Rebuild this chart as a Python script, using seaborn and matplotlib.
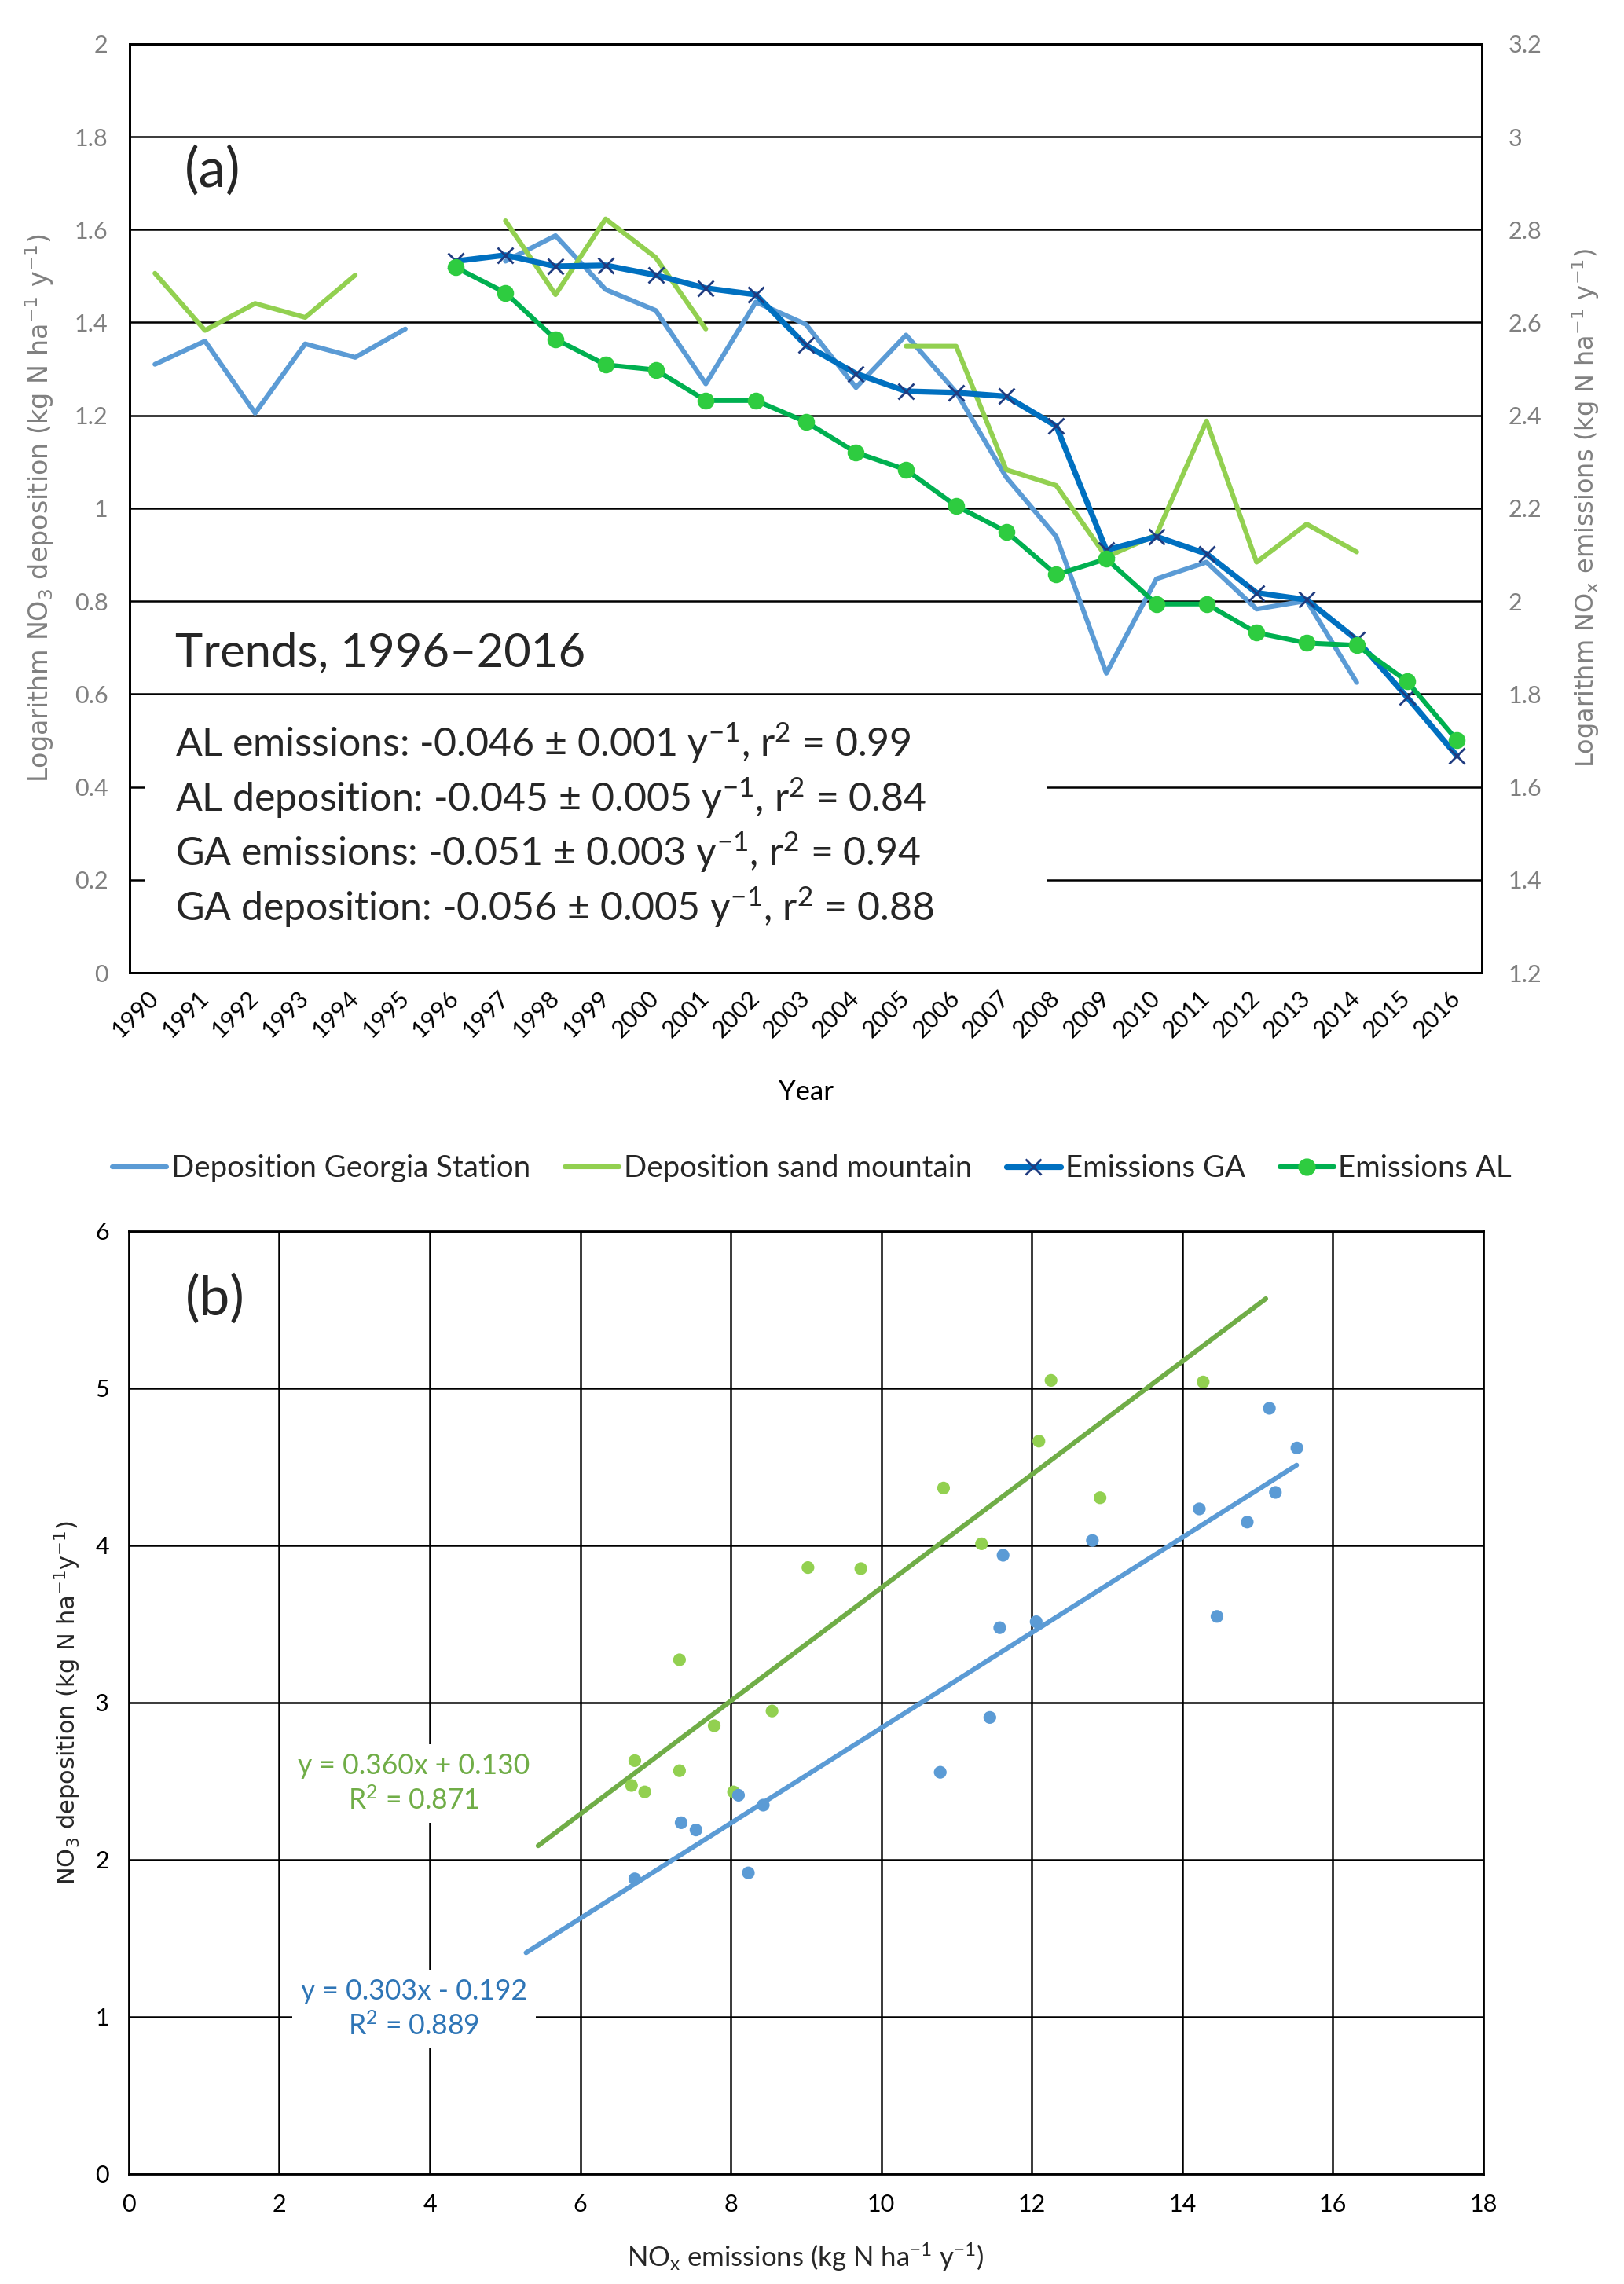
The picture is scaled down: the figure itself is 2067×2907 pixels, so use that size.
import numpy as np
import pandas as pd
import seaborn as sns
import matplotlib.pyplot as plt
from matplotlib.lines import Line2D
from matplotlib.patches import Rectangle
from matplotlib.ticker import FuncFormatter

nan = np.nan

# (a) yearly series, log values
years = list(range(1990, 2017))
dep_georgia = [1.310, 1.360, 1.205, 1.354, 1.325, 1.386, nan,
               1.532, 1.587, 1.471, 1.426, 1.268, 1.444, 1.396, 1.260, 1.373,
               1.250, 1.067, 0.939, 0.645, 0.848, 0.884, 0.783, 0.801, 0.625,
               nan, nan]
dep_sand = [1.506, 1.383, 1.441, 1.411, 1.502, nan, nan,
            1.619, 1.460, 1.623, 1.540, 1.386, nan, nan, nan,
            1.349, 1.349, 1.083, 1.049, 0.895, 0.943, 1.188, 0.884, 0.966, 0.906,
            nan, nan]
# emissions on the right axis
emis_ga = [nan] * 6 + [2.732, 2.745, 2.721, 2.723, 2.702, 2.674, 2.660, 2.551,
                       2.490, 2.452, 2.449, 2.441, 2.377, 2.110, 2.139, 2.102,
                       2.018, 2.003, 1.917, 1.794, 1.667]
emis_al = [nan] * 6 + [2.719, 2.664, 2.564, 2.509, 2.498, 2.432, 2.432, 2.386,
                       2.320, 2.283, 2.205, 2.150, 2.057, 2.091, 1.994, 1.994,
                       1.932, 1.910, 1.905, 1.828, 1.701]

trend_lines = [
    "AL emissions: -0.046 \u00b1 0.001 y$^{-1}$, r$^{2}$ = 0.99",
    "AL deposition: -0.045 \u00b1 0.005 y$^{-1}$, r$^{2}$ = 0.84",
    "GA emissions: -0.051 \u00b1 0.003 y$^{-1}$, r$^{2}$ = 0.94",
    "GA deposition: -0.056 \u00b1 0.005 y$^{-1}$, r$^{2}$ = 0.88",
]

# (b) deposition vs emissions
ga_emis_x = [15.158, 15.524, 15.238, 14.227, 14.864, 12.806, 11.619, 12.059, 11.575,
             14.462, 11.443, 10.784, 8.103, 8.432, 7.341, 7.538, 6.725, 8.234]
ga_dep_y = [4.872, 4.620, 4.337, 4.232, 4.148, 4.031, 3.937, 3.514, 3.476,
            3.548, 2.905, 2.556, 2.410, 2.347, 2.235, 2.189, 1.878, 1.916]
al_emis_x = [12.256, 14.278, 12.095, 10.828, 12.908, 11.333, 9.026, 9.729,
             7.319, 8.549, 7.780, 6.725, 7.319, 6.681, 6.857, 8.037]
al_dep_y = [5.050, 5.040, 4.663, 4.365, 4.303, 4.010, 3.859, 3.852,
            3.272, 2.946, 2.852, 2.630, 2.566, 2.472, 2.431, 2.431]
al_fit = (0.360, 0.130)
al_fit_range = (5.44, 15.11)
ga_fit = (0.303, -0.192)
ga_fit_range = (5.28, 15.52)

C_GEORGIA = "#5B9BD5"
C_SAND = "#92D050"
C_GA = "#0070C0"
C_AL = "#00B050"
GRAY = "#808080"

sns.set_theme(style="white")
plt.rcParams["font.family"] = ["Lato", "DejaVu Sans"]
plt.rcParams["mathtext.default"] = "regular"


def segments(values):
    df = pd.DataFrame({"year": years, "value": values})
    df["seg"] = df["value"].isna().cumsum()
    return df.dropna()


fig = plt.figure(figsize=(10.335, 14.535), dpi=200)

# ---------------- (a) ----------------
ax1 = fig.add_axes([0.080, 0.5741, 0.8325, 0.4067])
ax2 = ax1.twinx()

sns.lineplot(data=segments(dep_georgia), x="year", y="value", units="seg",
             estimator=None, color=C_GEORGIA, lw=2.2, ax=ax1)
sns.lineplot(data=segments(dep_sand), x="year", y="value", units="seg",
             estimator=None, color=C_SAND, lw=2.2, ax=ax1)
sns.lineplot(data=segments(emis_ga), x="year", y="value", units="seg",
             estimator=None, color=C_GA, lw=2.6, marker="x", markersize=7,
             markeredgecolor="#203C80", markeredgewidth=1.0, ax=ax2)
sns.lineplot(data=segments(emis_al), x="year", y="value", units="seg",
             estimator=None, color=C_AL, lw=2.2, marker="o", markersize=7,
             markerfacecolor="#2ECC40", markeredgecolor="#2ECC40", ax=ax2)

ax1.set_xlim(1989.5, 2016.5)
ax1.set_ylim(0, 2)
ax2.set_ylim(1.2, 3.2)
ax1.set_yticks(np.arange(0, 2.01, 0.2))
ax2.set_yticks(np.arange(1.2, 3.21, 0.2))
fmt = FuncFormatter(lambda v, p: f"{v:.1f}".rstrip("0").rstrip("."))
ax1.yaxis.set_major_formatter(fmt)
ax2.yaxis.set_major_formatter(fmt)
ax1.set_xticks(years)
ax1.set_xticklabels([str(y) for y in years], rotation=45, ha="right",
                    va="center", rotation_mode="anchor")
ax1.yaxis.grid(True, color="black", lw=0.9)
ax1.set_axisbelow(True)
ax1.tick_params(axis="x", length=0, pad=10, labelsize=11, labelcolor="black")
ax1.tick_params(axis="y", length=0, pad=10, labelsize=11, labelcolor=GRAY)
ax2.tick_params(axis="y", length=0, pad=12, labelsize=11, labelcolor=GRAY)
for ax in (ax1, ax2):
    for sp in ax.spines.values():
        sp.set_color("black")
        sp.set_linewidth(1.0)

ax1.set_xlabel("Year", fontsize=12.5, color="black")
ax1.xaxis.set_label_coords(0.5, -0.115)
ax1.set_ylabel("Logarithm NO$_3$ deposition (kg N ha$^{-1}$ y$^{-1}$)",
               fontsize=12, color=GRAY, family="DejaVu Sans")
ax1.yaxis.set_label_coords(-0.055, 0.5)
ax2.set_ylabel("Logarithm NO$_x$ emissions (kg N ha$^{-1}$ y$^{-1}$)",
               fontsize=11.5, color=GRAY, family="DejaVu Sans")
ax2.yaxis.set_label_coords(1.065, 0.5)

ax1.text(0.061, 0.863, "(a)", transform=ax1.transAxes, fontsize=25,
         ha="center", va="center")
ax1.add_patch(Rectangle((0.011, 0.03), 0.667, 0.262, transform=ax1.transAxes,
                        facecolor="white", edgecolor="none", zorder=1))
ax1.text(0.0336, 0.3434, "Trends, 1996\u20132016", transform=ax1.transAxes,
         fontsize=21.5, ha="left", va="center", zorder=3)
for i, line in enumerate(trend_lines):
    ax1.text(0.0336, 0.247 - i * 0.0588, line, transform=ax1.transAxes,
             fontsize=18, ha="left", va="center", zorder=3)

handles = [
    Line2D([], [], color=C_GEORGIA, lw=2.2),
    Line2D([], [], color=C_SAND, lw=2.2),
    Line2D([], [], color=C_GA, lw=2.6, marker="x", markersize=7,
           markeredgecolor="#203C80"),
    Line2D([], [], color=C_AL, lw=2.2, marker="o", markersize=7,
           markerfacecolor="#2ECC40", markeredgecolor="#2ECC40"),
]
labels = ["Deposition Georgia Station", "Deposition sand mountain",
          "Emissions GA", "Emissions AL"]
fig.legend(handles, labels, loc="center", bbox_to_anchor=(0.5, 0.4885), ncol=4,
           frameon=False, fontsize=13.8, handlelength=1.8, handletextpad=0.15,
           columnspacing=1.15)

# ---------------- (b) ----------------
ax3 = fig.add_axes([0.0793, 0.0482, 0.834, 0.4128])
sns.scatterplot(x=al_emis_x, y=al_dep_y, color=C_SAND, s=34, edgecolor="none",
                ax=ax3, zorder=3)
sns.scatterplot(x=ga_emis_x, y=ga_dep_y, color=C_GEORGIA, s=34, edgecolor="none",
                ax=ax3, zorder=3)

for fit, rng, col in [(al_fit, al_fit_range, "#70AD47"),
                      (ga_fit, ga_fit_range, C_GEORGIA)]:
    xs = np.array(rng)
    fit_df = pd.DataFrame({"x": xs, "y": fit[0] * xs + fit[1]})
    sns.lineplot(data=fit_df, x="x", y="y", color=col, lw=2.2, ax=ax3, zorder=2)

ax3.set_xlim(0, 18)
ax3.set_ylim(0, 6)
ax3.set_xticks(range(0, 19, 2))
ax3.set_yticks(range(0, 7))
ax3.grid(True, color="black", lw=0.9)
ax3.set_axisbelow(True)
ax3.tick_params(length=0, labelsize=11, labelcolor="black")
ax3.tick_params(axis="y", pad=9)
ax3.tick_params(axis="x", pad=9)
for sp in ax3.spines.values():
    sp.set_color("black")
    sp.set_linewidth(1.0)

ax3.set_xlabel("NO$_x$ emissions (kg N ha$^{-1}$ y$^{-1}$)", fontsize=12.5)
ax3.xaxis.set_label_coords(0.5, -0.072)
ax3.set_ylabel("NO$_3$ deposition (kg N ha$^{-1}$y$^{-1}$)", fontsize=11,
               family="DejaVu Sans")
ax3.yaxis.set_label_coords(-0.034, 0.5)

ax3.text(1.15, 5.569, "(b)", fontsize=25, ha="center", va="center")
ax3.text(3.79, 2.484, "y = 0.360x + 0.130\nR$^{2}$ = 0.871", fontsize=12.8,
         color="#70AD47", ha="center", va="center", linespacing=1.3,
         bbox=dict(facecolor="white", edgecolor="none", pad=4), zorder=4)
ax3.text(3.79, 1.049, "y = 0.303x - 0.192\nR$^{2}$ = 0.889", fontsize=12.8,
         color="#2E75B6", ha="center", va="center", linespacing=1.3,
         bbox=dict(facecolor="white", edgecolor="none", pad=4), zorder=4)

fig.savefig("out.png", dpi=200)
